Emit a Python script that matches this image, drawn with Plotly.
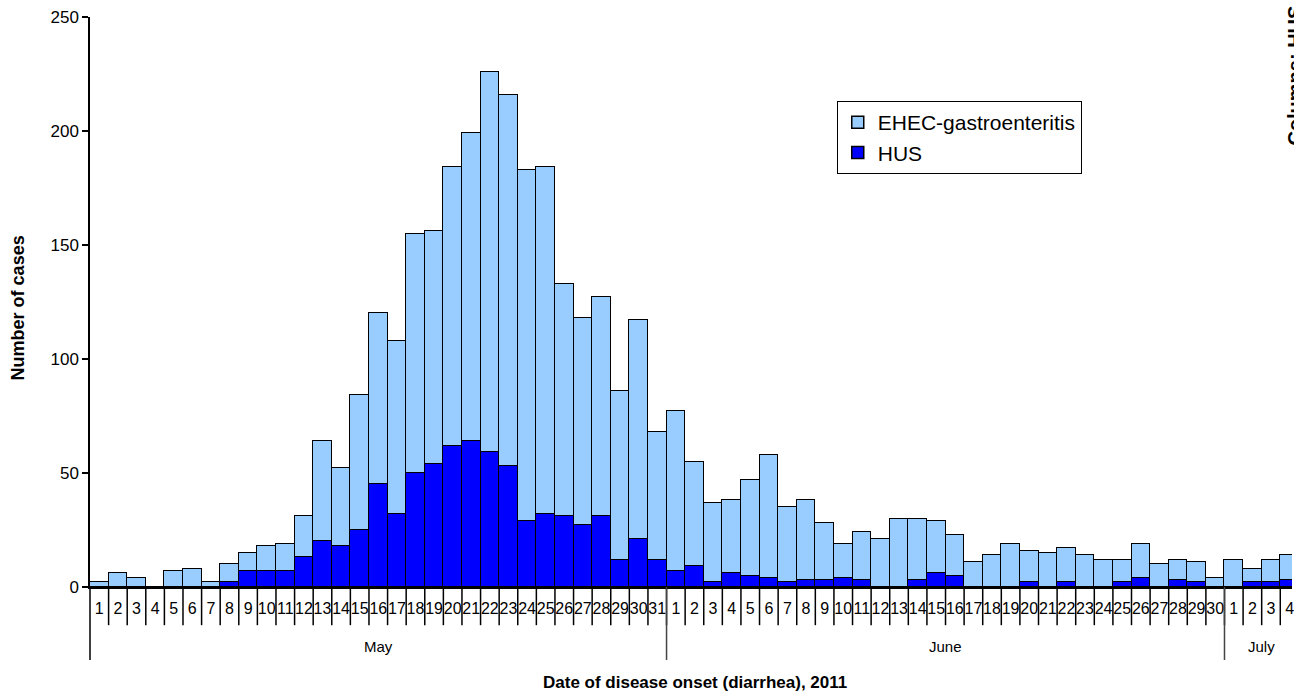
import plotly.graph_objects as go

# ---- data ----
may_days = [str(d) for d in range(1, 32)]
june_days = [str(d) for d in range(1, 31)]
july_days = [str(d) for d in range(1, 5)]
day_labels = may_days + june_days + july_days
months = ["May", "June", "July"]
month_lengths = [31, 30, 4]

hus = [0, 0, 0, 0, 0, 0, 0, 2, 7, 7, 7, 13, 20, 18, 25, 45, 32, 50, 54, 62, 64, 59, 53, 29, 32, 31, 27, 31, 12, 21, 12,
       7, 9, 2, 6, 5, 4, 2, 3, 3, 4, 3, 0, 0, 3, 6, 5, 0, 0, 0, 2, 0, 2, 0, 0, 2, 4, 0, 3, 2, 0,
       0, 2, 2, 3]
ehec = [2, 6, 4, 0, 7, 8, 2, 8, 8, 11, 12, 18, 44, 34, 59, 75, 76, 105, 102, 122, 135, 167, 163, 154, 152, 102, 91, 96, 74, 96, 56,
        70, 46, 35, 32, 42, 54, 33, 35, 25, 15, 21, 21, 30, 27, 23, 18, 11, 14, 19, 14, 15, 15, 14, 12, 10, 15, 10, 9, 9, 4,
        12, 6, 10, 11]

x = list(range(len(day_labels)))
FONT = "Arial, Liberation Sans, sans-serif"

fig = go.Figure()
fig.add_trace(go.Bar(x=x, y=hus, name="HUS", width=1,
                     marker=dict(color="#0000FF", line=dict(color="black", width=1.5))))
fig.add_trace(go.Bar(x=x, y=ehec, name="EHEC-gastroenteritis", width=1,
                     marker=dict(color="#99CCFF", line=dict(color="black", width=1.5))))

shapes = []
# day separators below axis
for i in range(len(x)):
    b = i + 0.5
    shapes.append(dict(type="line", xref="x", yref="paper", x0=b, x1=b, y0=0, y1=-0.067,
                       line=dict(color="black", width=1.5)))
# month separators
cum = 0
for L in month_lengths[:-1]:
    cum += L
    b = cum - 0.5
    shapes.append(dict(type="line", xref="x", yref="paper", x0=b, x1=b, y0=0, y1=-0.128,
                       line=dict(color="#444", width=1.5)))
# left axis extension
shapes.append(dict(type="line", xref="paper", yref="paper", x0=0, x1=0, y0=0, y1=-0.128,
                   line=dict(color="black", width=1.5)))

annotations = []
start = 0
for m, L in zip(months, month_lengths):
    center = start + (L - 1) / 2
    annotations.append(dict(text=m, xref="x", yref="paper", x=center, y=-0.105, showarrow=False,
                            font=dict(size=15, color="black", family=FONT), yanchor="middle"))
    start += L

annotations.append(dict(text="<b>Date of disease onset (diarrhea), 2011</b>", xref="paper", yref="paper",
                        x=(696 - 90) / 1204, y=-0.168, showarrow=False, yanchor="middle",
                        font=dict(size=17, color="black", family=FONT)))
annotations.append(dict(text="<b>Number of cases</b>", xref="paper", yref="paper",
                        x=(18 - 90) / 1204, y=0.489, showarrow=False, textangle=-90,
                        xanchor="center", yanchor="middle",
                        font=dict(size=18, color="black", family=FONT)))
annotations.append(dict(text="<b>Columns: HUS cases</b>", xref="paper", yref="paper",
                        x=1.0, xshift=-10, y=0.770, showarrow=False, textangle=-90,
                        xanchor="left", yanchor="bottom",
                        font=dict(size=20, color="black", family=FONT)))

fig.update_layout(
    width=1294, height=693, autosize=False,
    margin=dict(l=90, r=0, t=17, b=106),
    paper_bgcolor="white", plot_bgcolor="white",
    barmode="stack", bargap=0,
    font=dict(family=FONT, color="black"),
    showlegend=True,
    legend=dict(x=(838 - 90) / 1204, y=(587 - 101) / 570, xanchor="left", yanchor="top",
                bgcolor="white", bordercolor="black", borderwidth=1,
                font=dict(size=21, color="black", family=FONT), traceorder="reversed",
                tracegroupgap=0),
    shapes=shapes,
    annotations=annotations,
)
fig.update_xaxes(range=[-0.5, 64.13], tickmode="array", tickvals=x, ticktext=day_labels,
                 ticks="outside", ticklen=6, tickcolor="rgba(0,0,0,0)",
                 tickfont=dict(size=16, color="black", family=FONT),
                 ticklabeloverflow="allow",
                 showline=True, linecolor="black", linewidth=1.5, showgrid=False,
                 zeroline=False, tickangle=0)
fig.update_yaxes(range=[0, 250], dtick=50, ticks="outside", ticklen=6, tickcolor="black",
                 tickwidth=1.5,
                 tickfont=dict(size=17, color="black", family=FONT),
                 showline=True, linecolor="black", linewidth=1.5, showgrid=False,
                 zeroline=False)

fig.write_html("out.html", config={"displayModeBar": False},
               post_script="document.body.style.margin='0';document.body.style.overflow='hidden';")
